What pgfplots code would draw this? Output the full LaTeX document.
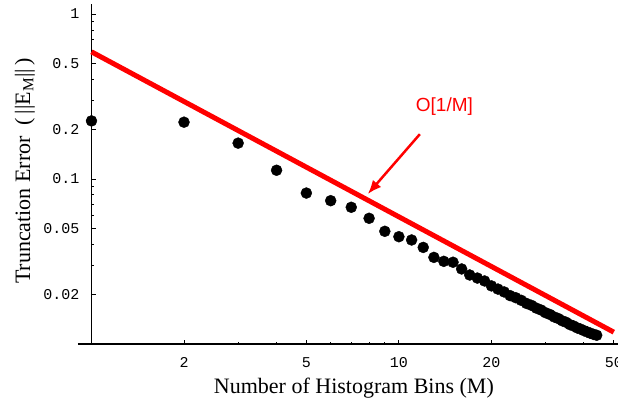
\documentclass[border=0pt]{standalone}
\usepackage{pgfplots}
\pgfplotsset{compat=1.18}
\usepackage{fontspec}
\setmainfont{Liberation Serif}
\newfontfamily\monof{Liberation Mono}
\newfontfamily\sansf{Liberation Sans}
\usetikzlibrary{arrows.meta}
\begin{document}
\begin{tikzpicture}
\begin{axis}[
 scale only axis, width=541pt, height=340pt,
 xmode=log, ymode=log,
 xmin=0.904, xmax=52, ymin=0.01, ymax=1.15,
 axis x line=bottom, axis y line=middle,
 axis line style={-, line width=1.2pt, black},
 xtick={2,5,10,20,50}, xticklabels={2,5,10,20,50},
 ytick={0.02,0.05,0.1,0.2,0.5,1}, yticklabels={0.02,0.05,0.1,0.2,0.5,1},
 minor xtick={3,4,6,7,8,9,30,40},
 minor ytick={0.03,0.04,0.06,0.07,0.08,0.09,0.3,0.4,0.6,0.7,0.8,0.9},
 tick align=inside,
 major tick length=4.5pt, minor tick length=2.5pt,
 tick style={black, line width=1pt},
 /pgf/number format/assume math mode=true,
 ticklabel style={font=\monof\fontsize{15}{15}\selectfont, inner sep=0pt},
 yticklabel style={anchor=east, xshift=-12pt},
 xticklabel style={anchor=north, yshift=-13pt},
 clip=false,
]
\addplot[red, line width=5pt] coordinates {(1,0.59) (50,0.0118)};
\addplot[only marks, mark=*, mark size=5.5pt, black] coordinates {
(1,0.225)(2,0.221)(3,0.165)(4,0.113)(5,0.0822)(6,0.0739)(7,0.0674)(8,0.0578)
(9,0.0482)(10,0.0447)(11,0.0427)(12,0.0385)(13,0.0335)(14,0.0317)(15,0.0313)
(16,0.0285)(17,0.0262)(18,0.0251)(19,0.0241)(20,0.0225)(21,0.02152)(22,0.02068)
(23,0.01965)(24,0.01908)(25,0.01840)(26,0.01762)(27,0.01715)(28,0.01650)
(29,0.01607)(30,0.01547)(31,0.01510)(32,0.01459)(33,0.01427)(34,0.01382)
(35,0.01354)(36,0.01311)(37,0.01286)(38,0.01253)(39,0.01231)(40,0.01205)
(41,0.01183)(42,0.01162)(43,0.01144)(44,0.01130)};
\draw[red, line width=2.5pt, -{Latex[length=14pt,width=11pt]}] (axis cs:11.7,0.187) -- (axis cs:7.92,0.081);
\node[red, font=\sansf\fontsize{19}{19}\selectfont] at (axis cs:14.06,0.273) {O[1/M]};
\node[rotate=90, font=\fontsize{22}{22}\selectfont] at (axis description cs:-0.098,0.509) {Truncation Error\ \ (\,\textbar\textbar E\textsubscript{M}\textbar\textbar\,)};
\node[font=\fontsize{22}{22}\selectfont] at (axis description cs:0.510,-0.129) {Number of Histogram Bins (M)};
\end{axis}
\pgfresetboundingbox
\path[use as bounding box] (-78pt,-60pt) rectangle (540pt,344pt);
\end{tikzpicture}
\end{document}
